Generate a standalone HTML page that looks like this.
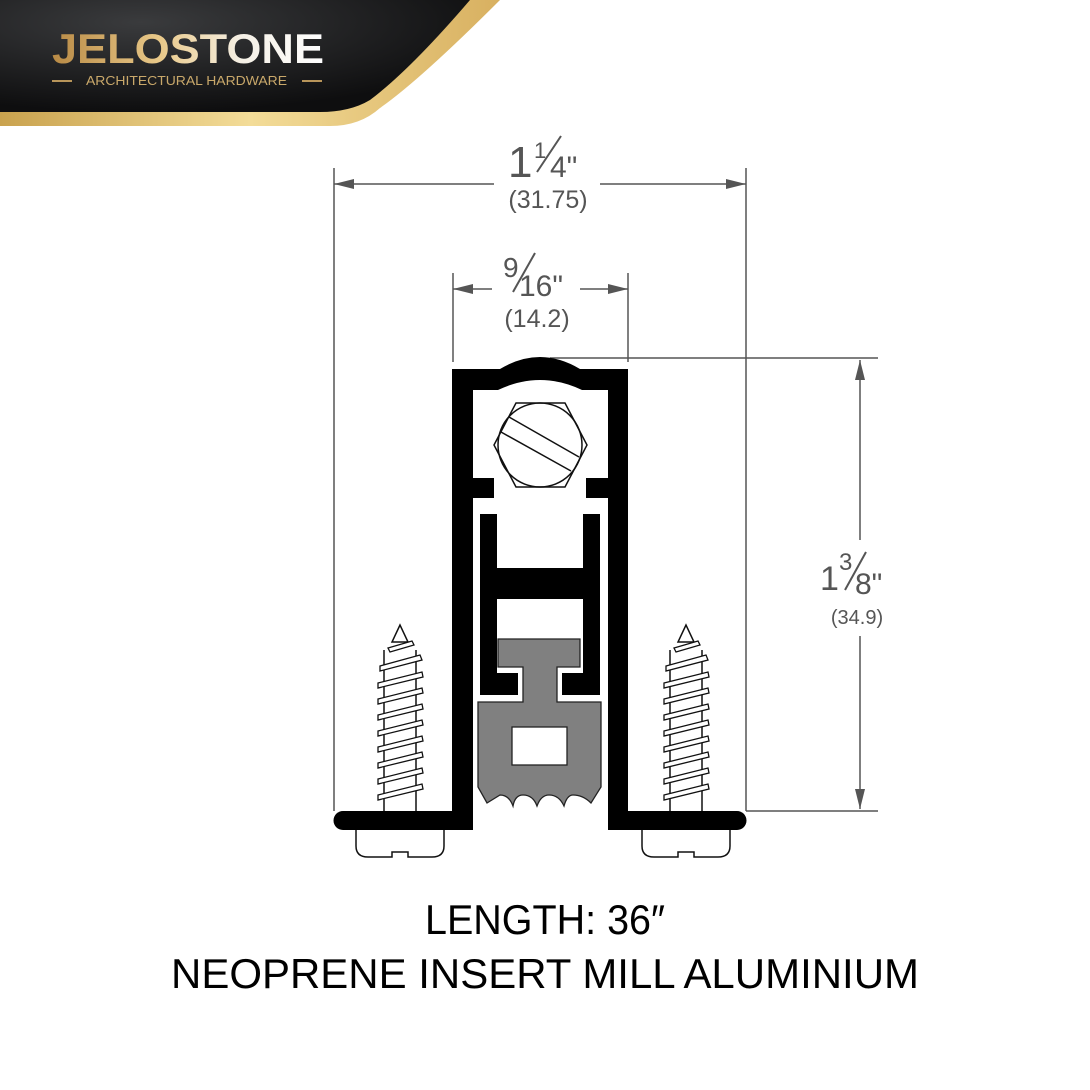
<!DOCTYPE html>
<html><head><meta charset="utf-8"><style>
html,body{margin:0;padding:0;background:#fff;}
svg{display:block;}
</style></head><body>
<svg width="1090" height="1090" viewBox="0 0 1090 1090" xmlns="http://www.w3.org/2000/svg">
<defs>
<linearGradient id="gold" x1="0" y1="0" x2="1" y2="0">
<stop offset="0" stop-color="#c9a24e"/><stop offset="0.5" stop-color="#f3dc98"/><stop offset="1" stop-color="#d8b060"/>
</linearGradient>
<linearGradient id="gtxt" x1="0" y1="0" x2="1" y2="0">
<stop offset="0" stop-color="#b88a45"/><stop offset="0.4" stop-color="#e9c98a"/><stop offset="0.7" stop-color="#f5f0e6"/><stop offset="1" stop-color="#ffffff"/>
</linearGradient>
<radialGradient id="blk" cx="0.3" cy="0.2" r="0.8">
<stop offset="0" stop-color="#3a3b3d"/><stop offset="1" stop-color="#0e0e0f"/>
</radialGradient>
<g id="screw">
<path d="M-16 650 L-16 811 M16 650 L16 811" stroke="#111" stroke-width="1.5" fill="none"/>
<path d="M0 625 L-8 642 L8 642 Z" fill="#fff" stroke="#111" stroke-width="1.5"/>
<g fill="#fff" stroke="#111" stroke-width="1.3">
<path d="M-12 648 L12 641 L14 645 L-10 652 Z"/>
<path d="M-20 666 L20 655 L22 660 L-20 671 Z"/>
<path d="M-22 683 L22 672 L23 677 L-22 688 Z"/>
<path d="M-22 699 L22 688 L23 693 L-22 704 Z"/>
<path d="M-22 715 L22 704 L23 709 L-22 720 Z"/>
<path d="M-22 731 L22 720 L23 725 L-22 736 Z"/>
<path d="M-22 747 L22 736 L23 741 L-22 752 Z"/>
<path d="M-22 763 L22 752 L23 757 L-22 768 Z"/>
<path d="M-22 779 L22 768 L23 773 L-22 784 Z"/>
<path d="M-22 795 L22 784 L23 789 L-22 800 Z"/>
</g>
<path d="M-44 830 L-44 846 Q-44 857 -32 857 L-8 857 L-8 852 L8 852 L8 857 L32 857 Q44 857 44 846 L44 830" fill="#fff" stroke="#111" stroke-width="1.5"/>
</g>
<marker id="ar" viewBox="0 0 20 10" refX="20" refY="5" markerWidth="20" markerHeight="10" markerUnits="userSpaceOnUse" orient="auto"><path d="M0 0 L20 5 L0 10 Z" fill="#555"/></marker>
</defs>

<!-- header -->
<path d="M0 0 L500 0 Q420 80 380 108 Q360 126 330 126 L0 126 Z" fill="url(#gold)"/>
<path d="M0 0 L470 0 Q410 70 370 100 Q350 112 320 112 L0 112 Z" fill="url(#blk)"/>
<text x="52" y="63" font-family="Liberation Sans, sans-serif" font-weight="bold" font-size="42" fill="url(#gtxt)" textLength="272" lengthAdjust="spacingAndGlyphs">JELOSTONE</text>
<text x="86" y="85" font-family="Liberation Sans, sans-serif" font-size="13" fill="#c9a86a" textLength="201" lengthAdjust="spacingAndGlyphs">ARCHITECTURAL HARDWARE</text>
<rect x="52" y="80" width="20" height="2" fill="#b8955a"/><rect x="302" y="80" width="20" height="2" fill="#b8955a"/>

<!-- dimension lines -->
<g stroke="#555" stroke-width="1.5" fill="none">
<line x1="334" y1="168" x2="334" y2="811"/>
<line x1="746" y1="168" x2="746" y2="811"/>
<line x1="494" y1="184" x2="334" y2="184" marker-end="url(#ar)"/>
<line x1="600" y1="184" x2="746" y2="184" marker-end="url(#ar)"/>
<line x1="453" y1="273" x2="453" y2="362"/>
<line x1="628" y1="273" x2="628" y2="362"/>
<line x1="492" y1="289" x2="453" y2="289" marker-end="url(#ar)"/>
<line x1="580" y1="289" x2="628" y2="289" marker-end="url(#ar)"/>
<line x1="550" y1="358" x2="878" y2="358"/>
<line x1="746" y1="811" x2="878" y2="811"/>
<line x1="860" y1="540" x2="860" y2="360" marker-end="url(#ar)"/>
<line x1="860" y1="636" x2="860" y2="809" marker-end="url(#ar)"/>
</g>
<g font-family="Liberation Sans, sans-serif" fill="#555">
<text x="508" y="177" font-size="44">1</text>
<text x="534" y="158" font-size="22">1</text>
<line x1="537" y1="172" x2="561" y2="136" stroke="#555" stroke-width="2"/>
<text x="550" y="177" font-size="30">4"</text>
<text x="548" y="208" font-size="25" text-anchor="middle">(31.75)</text>
<text x="503" y="277" font-size="28">9</text>
<line x1="513" y1="292" x2="535" y2="253" stroke="#555" stroke-width="2"/>
<text x="519" y="296" font-size="30">16"</text>
<text x="537" y="327" font-size="25" text-anchor="middle">(14.2)</text>
<text x="820" y="590" font-size="34">1</text>
<text x="839" y="570" font-size="24">3</text>
<line x1="845" y1="590" x2="866" y2="552" stroke="#555" stroke-width="2"/>
<text x="855" y="594" font-size="30">8"</text>
<text x="857" y="624" font-size="20" text-anchor="middle">(34.9)</text>
</g>

<!-- profile -->
<g fill="#000">
<path d="M452 369 L500 369 Q540 345 580 369 L628 369 L628 830 L608 830 L608 498 L586 498 L586 478 L608 478 L608 390 L582 390 Q540 370 498 390 L473 390 L473 478 L494 478 L494 498 L473 498 L473 830 L452 830 L452 830 Z"/>
<path d="M473 811 L473 830 L343 830 A9.5 9.5 0 0 1 343 811 Z"/>
<path d="M608 811 L608 830 L737 830 A9.5 9.5 0 0 0 737 811 Z"/>
<path d="M480 514 L497 514 L497 568 L583 568 L583 514 L600 514 L600 695 L562 695 L562 673 L583 673 L583 599 L497 599 L497 673 L518 673 L518 695 L480 695 Z"/>
</g>
<!-- bolt -->
<g fill="none" stroke="#111" stroke-width="1.5">
<path d="M516 403 L565 403 L587 445 L565 487 L516 487 L494 445 Z"/>
<circle cx="540" cy="445" r="42"/>
<line x1="509" y1="417" x2="579" y2="457"/>
<line x1="501" y1="432" x2="571" y2="471"/>
</g>
<!-- insert -->
<path d="M498 639 L580 639 L580 667 L557 667 L557 702 L601 702 L601 787 L591 803 Q583 795 573 795 Q567 795 564 806 Q559 795 549 795 Q541 795 537 806 Q533 795 523 795 Q515 795 513 806 Q509 795 500 795 L487 803 L478 787 L478 702 L523 702 L523 667 L498 667 Z" fill="#808080" stroke="#222" stroke-width="1.3"/>
<rect x="512" y="727" width="55" height="38" fill="#fff" stroke="#222" stroke-width="1.3"/>

<use href="#screw" x="400" y="0"/>
<use href="#screw" x="686" y="0"/>

<g font-family="Liberation Sans, sans-serif" fill="#000" text-anchor="middle">
<text x="545" y="934" font-size="42" textLength="240" lengthAdjust="spacingAndGlyphs">LENGTH: 36″</text>
<text x="545" y="988" font-size="42" textLength="748" lengthAdjust="spacingAndGlyphs">NEOPRENE INSERT MILL ALUMINIUM</text>
</g>
</svg>
</body></html>
